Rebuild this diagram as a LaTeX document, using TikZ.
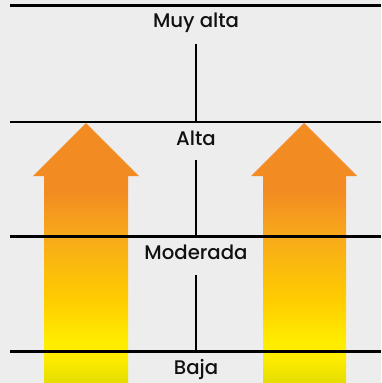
\documentclass[tikz,border=0pt]{standalone}
\usepackage{fontspec}
\setmainfont{Poppins Medium}
\usetikzlibrary{positioning}

\definecolor{bggray}{HTML}{EDEDED}
\definecolor{inkdark}{HTML}{111111}
\definecolor{lowyel}{HTML}{E4DD00}
\definecolor{topyel}{HTML}{FFED00}
\definecolor{midyel}{HTML}{FFCC00}
\definecolor{amber}{HTML}{F8AA1A}
\definecolor{orng}{HTML}{F28B22}
\pgfdeclareverticalshading{risegrad}{100bp}{color(0bp)=(lowyel); color(25bp)=(lowyel); color(30bp)=(topyel); color(33bp)=(topyel); color(41bp)=(midyel); color(53bp)=(amber); color(62bp)=(orng); color(100bp)=(orng)}

\begin{document}
\begin{tikzpicture}[x=1pt,y=-1pt,
		level/.style={font=\fontsize{19.7}{23}\selectfont, text=inkdark, anchor=base, inner sep=0pt},
		rule/.style={draw=black, line width=2.2pt}]
			\useasboundingbox[fill=bggray] (0,0) rectangle (381,383);
			% arrows
			\shade[shading=risegrad] (86,123) -- (139,176) -- (128,176) -- (128,383) -- (44,383) -- (44,176) -- (33,176) -- cycle;
			\shade[shading=risegrad] (304,123) -- (357,176) -- (346,176) -- (346,383) -- (263,383) -- (263,176) -- (251,176) -- cycle;
			% levels
			\draw[rule] (10,5.5) -- (381,5.5);
			\draw[rule] (10,122) -- (381,122);
			\draw[rule] (10,236.5) -- (381,236.5);
			\draw[rule] (10,351.5) -- (381,351.5);
			\coordinate (l2) at (196,122);
			\coordinate (l3) at (196,236.5);
			\coordinate (l4) at (196,351.5);
			\node (muyalta)  at (196,27.5)  [level] {Muy alta};
			\node (alta)     at (196,145)   [level] {Alta};
			\node (moderada) at (196,259.5) [level] {Moderada};
			\node (baja)     at (196,374)   [level] {Baja};
			\draw[rule] ([yshift=-16.5pt]muyalta.base) -- (l2);
			\draw[rule] ([yshift=-15pt]alta.base) -- (l3);
			\draw[rule] ([yshift=-15.5pt]moderada.base) -- (l4);
		\end{tikzpicture}
\end{document}
